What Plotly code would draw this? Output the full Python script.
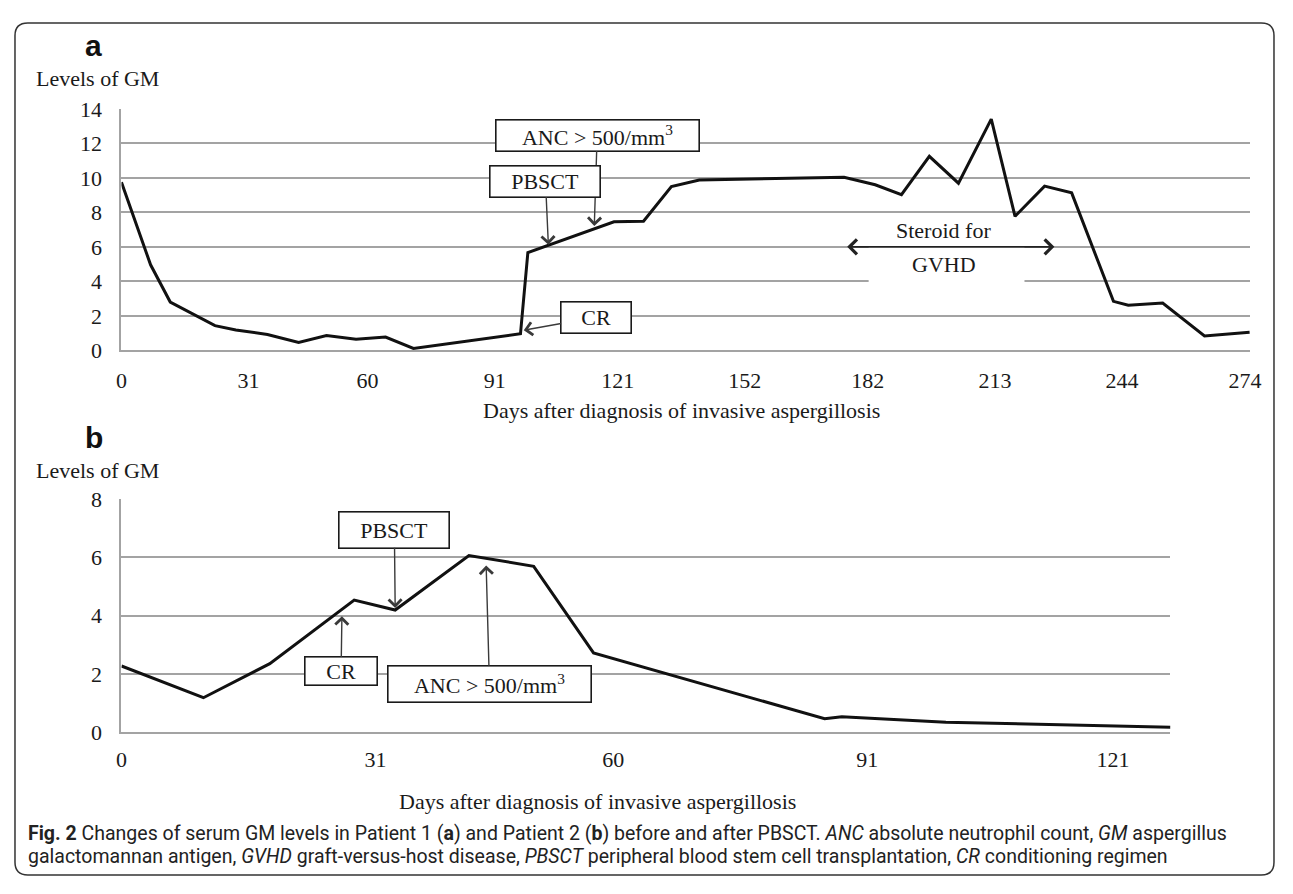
import plotly.graph_objects as go

# page is 1293x894; the browser adds an 8px body margin, so the figure itself is 16px smaller
PAGE_W, PAGE_H, OFF = 1293, 894, 8
W, H = PAGE_W - 2 * OFF, PAGE_H - 2 * OFF

# ---------------- data ----------------
# Panel a (Patient 1)
days_a = [0, 7.1, 11.9, 22.8, 27.9, 35.6, 43.2, 50.0, 57.2, 64.4, 71.2, 97.3, 99.1,
          120.1, 127.3, 134.1, 140.9, 176.2, 183.8, 190.2, 197.0, 204.1, 212.1, 217.9,
          225.1, 231.7, 241.9, 245.5, 253.9, 264.1, 275.1]
gm_a = [9.75, 4.96, 2.80, 1.43, 1.18, 0.92, 0.45, 0.86, 0.64, 0.77, 0.11, 0.96, 5.67,
        7.45, 7.49, 9.50, 9.88, 10.03, 9.60, 9.03, 11.25, 9.69, 13.41, 7.77,
        9.52, 9.13, 2.84, 2.61, 2.74, 0.83, 1.05]
ticks_a = [0, 31, 60, 91, 121, 152, 182, 213, 244, 274]

# Panel b (Patient 2)
days_b = [0, 10.0, 18.1, 28.4, 33.4, 42.4, 50.3, 57.6, 85.8, 87.9, 100.6, 114, 128]
gm_b = [2.27, 1.18, 2.35, 4.53, 4.19, 6.06, 5.69, 2.72, 0.46, 0.53, 0.34, 0.25, 0.17]
ticks_b = [0, 31, 60, 91, 121]

# ---------------- helpers (page pixel -> paper fraction) ----------------
def fx(px):
    return (px - OFF) / W

def fy(py):
    return 1 - (py - OFF) / H

SERIF = "Liberation Serif"
SANS = "Liberation Sans"
GRID = "#a3a3a3"
TXT = "#1a1a1a"

fig = go.Figure()
fig.add_trace(go.Scatter(x=days_a, y=gm_a, mode="lines", xaxis="x", yaxis="y",
                         line=dict(color="#111111", width=3), hoverinfo="skip"))
fig.add_trace(go.Scatter(x=days_b, y=gm_b, mode="lines", xaxis="x2", yaxis="y2",
                         line=dict(color="#111111", width=3), hoverinfo="skip"))

axis_common = dict(showline=True, linecolor=GRID, linewidth=2, zeroline=False,
                   ticks="", tickfont=dict(family=SERIF, size=22, color=TXT))

fig.update_layout(
    width=W, height=H, margin=dict(l=0, r=0, t=0, b=0),
    paper_bgcolor="white", plot_bgcolor="white", showlegend=False,
    xaxis=dict(domain=[fx(117), fx(1261.7)], range=[0, 275.2], anchor="y",
               tickvals=ticks_a, showgrid=False, ticklabelstandoff=9, **axis_common),
    yaxis=dict(domain=[fy(348), fy(99.5)], range=[0, 14], anchor="x",
               tickvals=list(range(0, 15, 2)), showgrid=True, gridcolor=GRID, gridwidth=2,
               ticklabelstandoff=13, **axis_common),
    xaxis2=dict(domain=[fx(117), fx(1181)], range=[0, 128], anchor="y2",
                tickvals=ticks_b, showgrid=False, ticklabelstandoff=6, **axis_common),
    yaxis2=dict(domain=[fy(741), fy(501)], range=[0, 8], anchor="x2",
                tickvals=list(range(0, 9, 2)), showgrid=True, gridcolor=GRID, gridwidth=2,
                ticklabelstandoff=13, **axis_common),
)

ann = []

def label_box(xr, yr, x, y, ax, ay, text, w, h):
    return dict(xref=xr, yref=yr, axref=xr, ayref=yr, x=x, y=y, ax=ax, ay=ay,
                text=text, showarrow=True, arrowhead=4, arrowsize=1.8, arrowwidth=1.4,
                arrowcolor="#3a3a3a", bgcolor="white", bordercolor="#1a1a1a",
                borderwidth=1.6, borderpad=0, width=w, height=h,
                font=dict(family=SERIF, size=22, color=TXT))

# Panel a annotations (ANC first so the PBSCT box covers its arrow)
ann.append(label_box("x", "y", 115.3, 7.21, 116.0, 12.47, "ANC &gt; 500/mm<sup>3</sup>", 202, 30))
ann.append(label_box("x", "y", 104.1, 6.12, 103.4, 9.80, "PBSCT", 109, 30))
ann.append(label_box("x", "y", 98.1, 1.17, 115.8, 1.92, "CR", 69, 30))
# steroid double arrow
ann.append(dict(xref="x", yref="y", axref="x", ayref="y", x=227.5, y=6, ax=176.6, ay=6,
                text="", showarrow=True, arrowside="end+start", arrowhead=4,
                startarrowhead=4, arrowsize=1.8, startarrowsize=1.8, arrowwidth=1.6,
                arrowcolor="#222222"))
ann.append(dict(xref="x", yref="y", x=200.5, y=6.93, text="Steroid for", showarrow=False,
                font=dict(family=SERIF, size=22, color=TXT)))
ann.append(dict(xref="x", yref="y", x=200.5, y=4.96, text="GVHD", showarrow=False,
                font=dict(family=SERIF, size=22, color=TXT)))

# Panel b annotations
ann.append(label_box("x2", "y2", 33.4, 4.26, 33.3, 6.95, "PBSCT", 109, 35))
ann.append(label_box("x2", "y2", 26.9, 3.98, 26.8, 2.09, "CR", 71, 27))
ann.append(label_box("x2", "y2", 44.5, 5.72, 44.9, 1.65, "ANC &gt; 500/mm<sup>3</sup>", 202, 35))

# Panel letters and axis titles
ann.append(dict(xref="paper", yref="paper", x=fx(78), y=fy(34.5), xanchor="left", yanchor="middle",
                text="<b>a</b>", showarrow=False, font=dict(family=SANS, size=30, color="#111")))
ann.append(dict(xref="paper", yref="paper", x=fx(78), y=fy(437.5), xanchor="left", yanchor="middle",
                text="<b>b</b>", showarrow=False, font=dict(family=SANS, size=30, color="#111")))
ann.append(dict(xref="paper", yref="paper", x=fx(28), y=fy(68.5), xanchor="left", yanchor="middle",
                text="Levels of GM", showarrow=False, font=dict(family=SERIF, size=22, color=TXT)))
ann.append(dict(xref="paper", yref="paper", x=fx(28), y=fy(472), xanchor="left", yanchor="middle",
                text="Levels of GM", showarrow=False, font=dict(family=SERIF, size=22, color=TXT)))
ann.append(dict(xref="paper", yref="paper", x=fx(685.5), y=fy(410), xanchor="center", yanchor="middle",
                text="Days after diagnosis of invasive aspergillosis", showarrow=False,
                font=dict(family=SERIF, size=22, color=TXT)))
ann.append(dict(xref="paper", yref="paper", x=fx(600), y=fy(812), xanchor="center", yanchor="middle",
                text="Days after diagnosis of invasive aspergillosis", showarrow=False,
                font=dict(family=SERIF, size=22, color=TXT)))

# Caption
cap1 = ("<b>Fig. 2</b> Changes of serum GM levels in Patient 1 (<b>a</b>) and Patient 2 (<b>b</b>) "
        "before and after PBSCT. <i>ANC</i> absolute neutrophil count, <i>GM</i> aspergillus")
cap2 = ("galactomannan antigen, <i>GVHD</i> graft-versus-host disease, <i>PBSCT</i> peripheral "
        "blood stem cell transplantation, <i>CR</i> conditioning regimen")
ann.append(dict(xref="paper", yref="paper", x=fx(20), y=fy(845), xanchor="left", yanchor="middle",
                text=cap1, showarrow=False, font=dict(family="Roboto", size=19.5, color="#222")))
ann.append(dict(xref="paper", yref="paper", x=fx(20), y=fy(869), xanchor="left", yanchor="middle",
                text=cap2, showarrow=False, font=dict(family="Roboto", size=19.5, color="#222")))

fig.update_layout(annotations=ann)

# white mask behind the steroid label (hides gridlines there)
shapes = [dict(type="rect", xref="x", yref="y", x0=182.2, x1=220.2, y0=3.8, y1=7.6,
               fillcolor="white", line=dict(width=0), layer="between")]

# rounded frame
L, T, R, B, r = 9, 11, 1286, 888, 13
path = (f"M {fx(L+r)},{fy(T)} L {fx(R-r)},{fy(T)} Q {fx(R)},{fy(T)} {fx(R)},{fy(T+r)} "
        f"L {fx(R)},{fy(B-r)} Q {fx(R)},{fy(B)} {fx(R-r)},{fy(B)} "
        f"L {fx(L+r)},{fy(B)} Q {fx(L)},{fy(B)} {fx(L)},{fy(B-r)} "
        f"L {fx(L)},{fy(T+r)} Q {fx(L)},{fy(T)} {fx(L+r)},{fy(T)} Z")
shapes.append(dict(type="path", xref="paper", yref="paper", path=path,
                   line=dict(color="#333333", width=1.5), fillcolor="rgba(0,0,0,0)", layer="above"))
fig.update_layout(shapes=shapes)

fig.write_html("out.html", config={"displayModeBar": False})
